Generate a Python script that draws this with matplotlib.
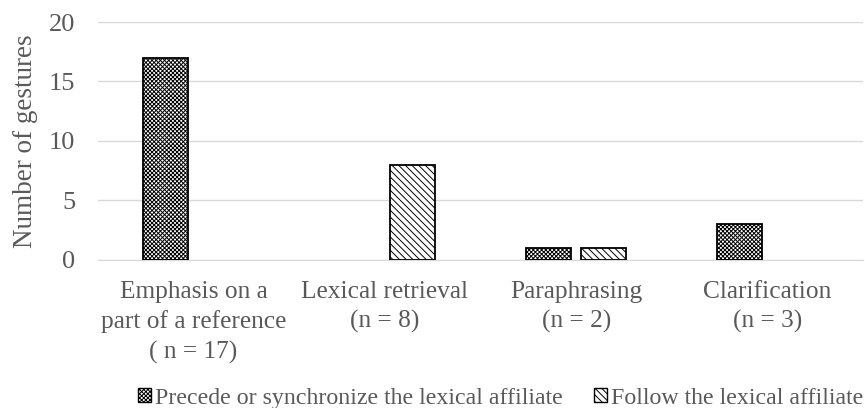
import numpy as np
import matplotlib.pyplot as plt

plt.rcParams['font.family'] = ['Liberation Serif', 'DejaVu Serif']
plt.rcParams['hatch.linewidth'] = 0.7

categories = ['Emphasis on a\npart of a reference\n( n = 17)', 'Lexical retrieval\n(n = 8)',
              'Paraphrasing\n(n = 2)', 'Clarification\n(n = 3)']
precede = [17, 0, 1, 3]
follow = [0, 8, 1, 0]

fig = plt.figure(figsize=(8.65, 4.08), dpi=100)
ax = fig.add_axes([0.113, 0.363, 0.885, 0.583])

x = np.arange(len(categories))
width = 0.235
off = 0.145
grey = '#595959'

for i in range(len(x)):
    if precede[i] > 0:
        ax.bar(x[i] - off, precede[i], width, facecolor='white', edgecolor='black',
               hatch='xxxxxxxx', linewidth=1.3, zorder=3)
    if follow[i] > 0:
        ax.bar(x[i] + off, follow[i], width, facecolor='white', edgecolor='black',
               hatch='\\\\\\\\\\', linewidth=1.3, zorder=3)

ax.set_xlim(-0.5, 3.5)
ax.set_ylim(0, 20)
ax.set_yticks([0, 5, 10, 15, 20])
ax.yaxis.grid(True, color='#d9d9d9', linewidth=1)
ax.set_axisbelow(True)
for s in ['top', 'right', 'left']:
    ax.spines[s].set_visible(False)
ax.spines['bottom'].set_color('#d9d9d9')
ax.tick_params(axis='both', length=0, colors=grey)
ax.tick_params(axis='y', pad=16, labelsize=19)
ax.tick_params(axis='x', pad=15)
ax.set_xticks(x)
ax.set_xticklabels(categories, fontsize=18.3, color=grey, linespacing=1.42)
ax.set_ylabel('Number of gestures', fontsize=19.5, color=grey, labelpad=8)

h1 = plt.Rectangle((0, 0), 1, 1, facecolor='white', edgecolor='black', hatch='xxxxxxxx', linewidth=1)
h2 = plt.Rectangle((0, 0), 1, 1, facecolor='white', edgecolor='black', hatch='\\\\\\\\\\', linewidth=1)
fig.legend([h1, h2], ['Precede or synchronize the lexical affiliate', 'Follow the lexical affiliate'],
           loc='center', bbox_to_anchor=(0.579, 0.024), ncol=2, frameon=False,
           fontsize=17.2, labelcolor=grey, handlelength=0.55, handleheight=0.55,
           handletextpad=0.17, columnspacing=1.3)

fig.savefig('out.png', dpi=100)
